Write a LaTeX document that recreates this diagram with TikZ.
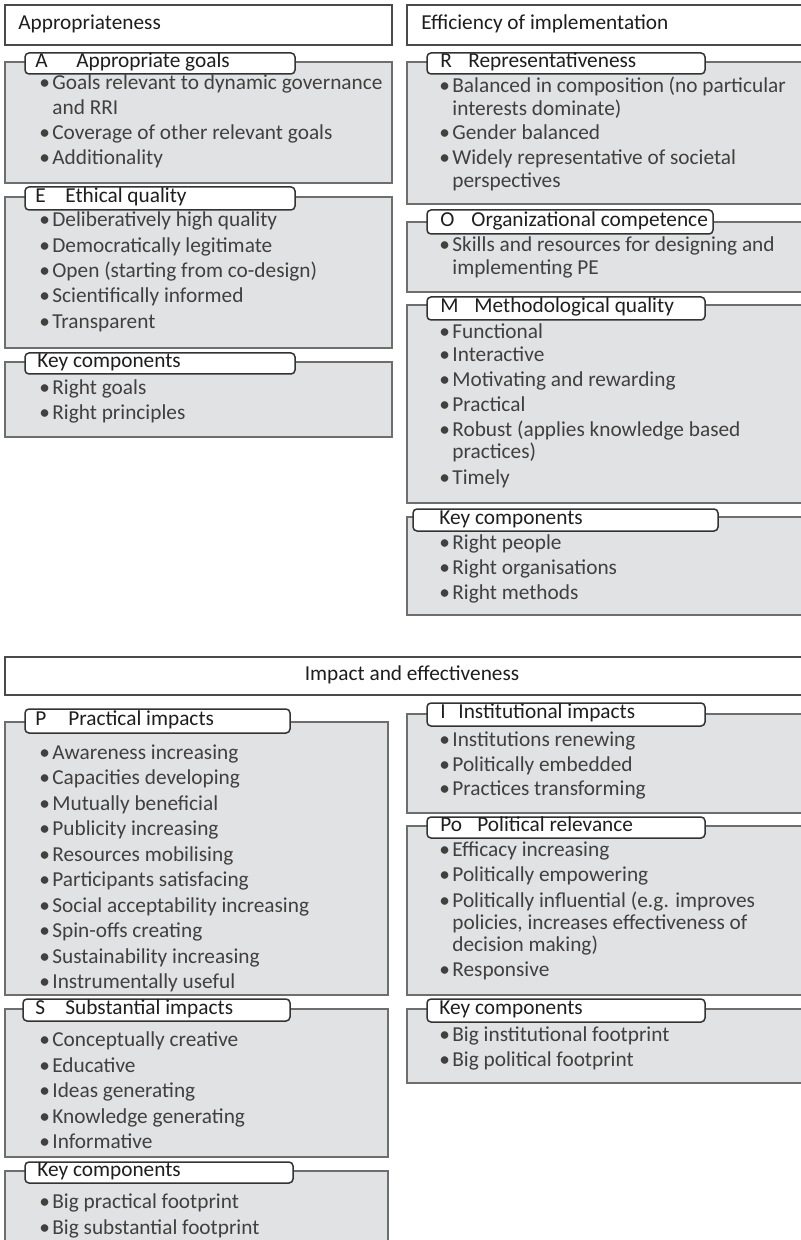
\documentclass[tikz,border=0pt]{standalone}
\usepackage{fontspec}
\setmainfont{Carlito}

\definecolor{panelfill}{HTML}{E1E2E4}
\definecolor{paneledge}{HTML}{6E6E6E}
\definecolor{headedge}{HTML}{4A4A4A}
\definecolor{tabedge}{HTML}{333333}
\definecolor{itemtext}{HTML}{404040}
\definecolor{darktext}{HTML}{1E1E1E}

\newcommand{\bul}{\makebox[6.5pt][l]{\textbullet}}

\begin{document}
\begin{tikzpicture}[x=0.5pt,y=-0.5pt,
	font=\fontsize{10.65}{12}\selectfont,
	panel/.style={draw=paneledge,fill=panelfill,line width=0.7pt},
	headbox/.style={draw=headedge,fill=white,line width=0.7pt},
	tabbox/.style={draw=tabedge,fill=white,line width=0.75pt,rounded corners=2pt},
	txt/.style={anchor=west,inner sep=0pt,text height=6.9pt,text depth=2.7pt},
	item/.style={txt,text height=8.1pt,text depth=1.5pt,text=itemtext},
	tabtxt/.style={txt,text=darktext}]
	\clip (0,0) rectangle (801,1240);
	\fill[white] (0,0) rectangle (801,1240);
	
	% Appropriateness
	\draw[headbox] (5,5) rectangle (392,45);
	\node[tabtxt] (happ) at (18,25) {Appropriateness};
	
	\draw[panel] (5,62) rectangle (392,183);
	\draw[tabbox] (25,53) rectangle (295,74);
	\node[tabtxt] (la) at (35,63.5) {A};
	\node[tabtxt] (ta) at (76,63.5) {Appropriate goals};
	\node[item] (a1) at (39,83) {\bul Goals relevant to dynamic governance};
	\node[item] (a1b) at (52,108) {and RRI};
	\node[item] (a2) at (39,133) {\bul Coverage of other relevant goals};
	\node[item] (a3) at (39,158) {\bul Additionality};
	
	\draw[panel] (5,197) rectangle (392,348);
	\draw[tabbox] (25,187) rectangle (295,210);
	\node[tabtxt] (le) at (35,198.5) {E};
	\node[tabtxt] (te) at (65,198.5) {Ethical quality};
	\foreach \t [count=\i] in {Deliberatively high quality, Democratically legitimate, Open (starting from co-design), Scientifically informed, Transparent}
		\node[item] (e\i) at (39,195+25.3*\i) {\bul\t};
	
	\draw[panel] (5,362) rectangle (392,437);
	\draw[tabbox] (25,353) rectangle (295,374);
	\node[tabtxt] (kl1) at (37,363.5) {Key components};
	\node[item] (kl1a) at (39,388) {\bul Right goals};
	\node[item] (kl1b) at (39,413) {\bul Right principles};
	
	% Efficiency of implementation
	\draw[headbox] (407,5) rectangle (810,45);
	\node[tabtxt] (heff) at (421,25) {Efficiency of implementation};
	
	\draw[panel] (407,62) rectangle (810,204);
	\draw[tabbox] (427,53) rectangle (705,74);
	\node[tabtxt] (lr) at (440,63.5) {R};
	\node[tabtxt] (tr) at (468,63.5) {Representativeness};
	\node[item] (r1) at (439,86) {\bul Balanced in composition (no particular};
	\node[item] (r1b) at (452,109) {interests dominate)};
	\node[item] (r2) at (439,133) {\bul Gender balanced};
	\node[item] (r3) at (439,158) {\bul Widely representative of societal};
	\node[item] (r3b) at (452,181) {perspectives};
	
	\draw[panel] (407,222) rectangle (810,292);
	\draw[tabbox] (427,210) rectangle (713,234);
	\node[tabtxt] (lo) at (440,222) {O};
	\node[tabtxt] (to) at (471,222) {Organizational competence};
	\node[item] (o1) at (439,245) {\bul Skills and resources for designing and};
	\node[item] (o1b) at (452,268) {implementing PE};
	
	\draw[panel] (407,305) rectangle (810,503);
	\draw[tabbox] (427,297) rectangle (705,320);
	\node[tabtxt] (lm) at (440,308.5) {M};
	\node[tabtxt] (tm) at (474,308.5) {Methodological quality};
	\node[item] (m1) at (439,332) {\bul Functional};
	\node[item] (m2) at (439,355) {\bul Interactive};
	\node[item] (m3) at (439,380) {\bul Motivating and rewarding};
	\node[item] (m4) at (439,405) {\bul Practical};
	\node[item] (m5) at (439,430) {\bul Robust (applies knowledge based};
	\node[item] (m5b) at (452,452) {practices)};
	\node[item] (m6) at (439,478) {\bul Timely};
	
	\draw[panel] (407,517) rectangle (810,615);
	\draw[tabbox] (413,509) rectangle (718,531);
	\node[tabtxt] (kr1) at (439,520) {Key components};
	\foreach \t [count=\i] in {Right people, Right organisations, Right methods}
		\node[item] (kr1\i) at (439,518+25*\i) {\bul\t};
	
	% Impact and effectiveness
	\draw[headbox] (5,657) rectangle (830,695);
	\node[tabtxt,anchor=center] (himp) at (412,676) {Impact and effectiveness};
	
	\draw[panel] (5,722) rectangle (388,995);
	\draw[tabbox] (25,709) rectangle (290,733);
	\node[tabtxt] (lp) at (35,721) {P};
	\node[tabtxt] (tp) at (68,721) {Practical impacts};
	\foreach \t [count=\i] in {Awareness increasing, Capacities developing, Mutually beneficial, Publicity increasing, Resources mobilising, Participants satisfacing, Social acceptability increasing, Spin-offs creating, Sustainability increasing, Instrumentally useful}
		\node[item] (p\i) at (39,727+25.5*\i) {\bul\t};
	
	\draw[panel] (5,1009) rectangle (388,1157);
	\draw[tabbox] (23,999) rectangle (290,1021);
	\node[tabtxt] (ls) at (35,1010) {S};
	\node[tabtxt] (ts) at (65,1010) {Substantial impacts};
	\foreach \t [count=\i] in {Conceptually creative, Educative, Ideas generating, Knowledge generating, Informative}
		\node[item] (s\i) at (39,1014.5+25.5*\i) {\bul\t};
	
	\draw[panel] (5,1171) rectangle (388,1260);
	\draw[tabbox] (25,1162) rectangle (293,1183);
	\node[tabtxt] (kl2) at (37,1172.5) {Key components};
	\node[item] (kl2a) at (39,1202) {\bul Big practical footprint};
	\node[item] (kl2b) at (39,1228) {\bul Big substantial footprint};
	
	\draw[panel] (407,714) rectangle (810,813);
	\draw[tabbox] (427,703) rectangle (705,726);
	\node[tabtxt] (li) at (440,714.5) {I};
	\node[tabtxt] (ti) at (458,714.5) {Institutional impacts};
	\foreach \t [count=\i] in {Institutions renewing, Politically embedded, Practices transforming}
		\node[item] (i\i) at (439,715.5+24.5*\i) {\bul\t};
	
	\draw[panel] (407,826) rectangle (810,995);
	\draw[tabbox] (427,817) rectangle (705,838);
	\node[tabtxt] (lpo) at (440,827.5) {Po};
	\node[tabtxt] (tpo) at (477,827.5) {Political relevance};
	\node[item] (po1) at (439,850) {\bul Efficacy increasing};
	\node[item] (po2) at (439,875) {\bul Politically empowering};
	\node[item] (po3) at (439,901) {\bul Politically influential (e.g. improves};
	\node[item] (po3b) at (452,923) {policies, increases effectiveness of};
	\node[item] (po3c) at (452,945) {decision making)};
	\node[item] (po4) at (439,970) {\bul Responsive};
	
	\draw[panel] (407,1009) rectangle (810,1083);
	\draw[tabbox] (427,999) rectangle (705,1022);
	\node[tabtxt] (kr2) at (439,1010.5) {Key components};
	\node[item] (kr2a) at (439,1035) {\bul Big institutional footprint};
	\node[item] (kr2b) at (439,1060) {\bul Big political footprint};
\end{tikzpicture}
\end{document}
